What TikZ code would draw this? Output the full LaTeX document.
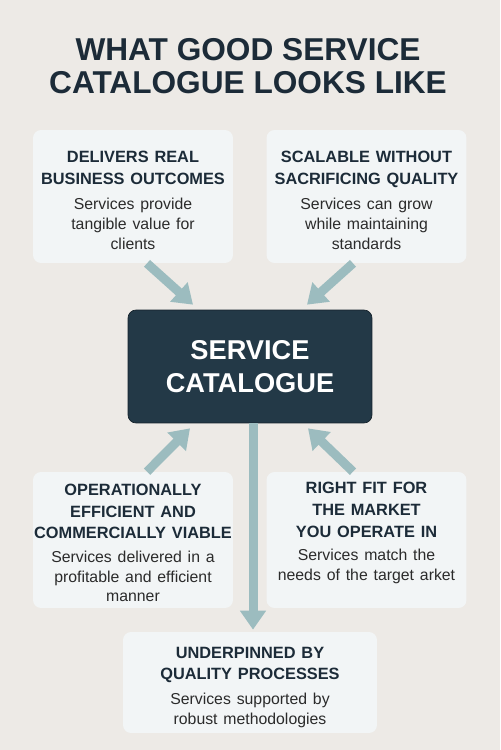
\documentclass[tikz,border=0pt]{standalone}
\usepackage{fontspec}
\setmainfont{Liberation Sans}
\usetikzlibrary{arrows.meta}
\definecolor{paper}{HTML}{EDEAE6}
\definecolor{cardfill}{HTML}{F2F5F6}
\definecolor{ink}{HTML}{1C2B38}
\definecolor{hub}{HTML}{233947}
\definecolor{flowc}{HTML}{9CBCBF}
\definecolor{bodyc}{HTML}{2B2B2B}
\newcommand{\headfont}{\fontsize{9.3}{12.3}\selectfont\bfseries\color{ink}}
\newcommand{\bodyfont}{\fontsize{9}{11.3}\selectfont\mdseries\color{bodyc}}
\tikzstyle{card} = [rectangle, rounded corners=0.16cm, fill=cardfill, text width=4.4cm, align=center, inner ysep=0pt, inner xsep=-0.2cm]
\tikzstyle{hubbox} = [rectangle, rounded corners=0.16cm, fill=hub, draw=hub!60!black, align=center, text=white, font=\fontsize{15.5}{18.7}\selectfont\bfseries]
\tikzstyle{flow} = [line width=0.18cm, flowc, -{Triangle[width=0.5cm,length=0.38cm]}]

\begin{document}
\begin{tikzpicture}[x=0.02cm,y=-0.02cm]
\fill[paper] (0,0) rectangle (500,750);

\node[align=center, text=ink, font=\fontsize{18}{18.7}\selectfont\bfseries] (title) at (248,66) {WHAT GOOD SERVICE\\CATALOGUE LOOKS LIKE};

\node[hubbox, minimum width=4.88cm, minimum height=2.26cm] (catalogue) at (250,366.5) {SERVICE\\CATALOGUE};

\node[card, minimum height=2.66cm] (deliver) at (133,196.5) {\headfont DELIVERS REAL\\BUSINESS OUTCOMES\par\vspace{3pt}\bodyfont Services provide\\tangible value for\\clients\par\vspace{-4.5pt}};
\node[card, minimum height=2.66cm] (scalable) at (366.5,196.5) {\headfont SCALABLE WITHOUT\\SACRIFICING QUALITY\par\vspace{3pt}\bodyfont Services can grow\\while maintaining\\standards\par\vspace{-4.5pt}};
\node[card, minimum height=2.72cm] (operational) at (133,540) {\headfont OPERATIONALLY\\EFFICIENT AND\\COMMERCIALLY VIABLE\par\vspace{2pt}\bodyfont Services delivered in a\\profitable and efficient\\manner\par\vspace{-3.5pt}};
\node[card, minimum height=2.72cm] (rightfit) at (366.5,540) {\headfont RIGHT FIT FOR\\THE MARKET\\YOU OPERATE IN\par\vspace{2pt}\bodyfont Services match the\\needs of the target arket\par\vspace{7.8pt}};
\node[card, text width=5.48cm, minimum height=2.02cm] (underpin) at (250,682.5) {\headfont UNDERPINNED BY\\QUALITY PROCESSES\par\vspace{3pt}\bodyfont Services supported by\\robust methodologies\par\vspace{-5.5pt}};

% arrows into the hub
\draw[flow] ([xshift=0.28cm]deliver.south) -- ([xshift=-1.14cm,yshift=0.1cm]catalogue.north);
\draw[flow] ([xshift=-0.27cm]scalable.south) -- ([xshift=1.14cm,yshift=0.1cm]catalogue.north);
\draw[flow] ([xshift=0.28cm]operational.north) -- ([xshift=-1.2cm,yshift=-0.1cm]catalogue.south);
\draw[flow] ([xshift=-0.27cm]rightfit.north) -- ([xshift=1.16cm,yshift=-0.1cm]catalogue.south);
\draw[flow] ([xshift=0.06cm]catalogue.south) -- ([xshift=0.06cm,yshift=0.04cm]underpin.north);
\end{tikzpicture}
\end{document}
